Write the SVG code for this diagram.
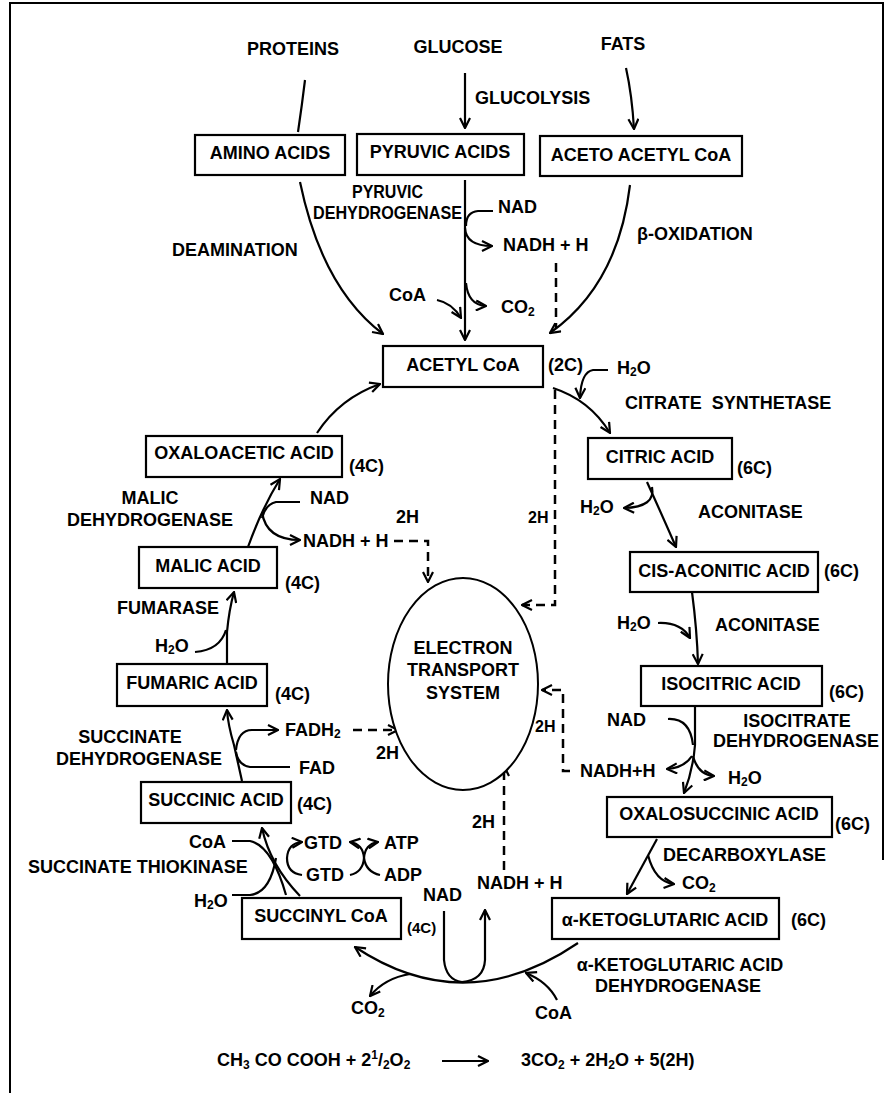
<svg xmlns="http://www.w3.org/2000/svg" width="893" height="1093" viewBox="0 0 893 1093">
<style>
  text { font-family: "Liberation Sans", Arial, sans-serif; font-weight: bold; font-size: 18px; fill: #000; }
  .m { text-anchor: middle; }
  .s16 { font-size: 16px; }
  .s15 { font-size: 15px; }
  .sub { font-size: 12px; }
  .box { fill: #fff; stroke: #000; stroke-width: 2.2; }
  .ln { fill: none; stroke: #000; stroke-width: 2.2; }
  .ar { fill: none; stroke: #000; stroke-width: 2.2; marker-end: url(#ah); }
  .da { fill: none; stroke: #000; stroke-width: 2.5; stroke-dasharray: 9 6; }
  .dar { fill: none; stroke: #000; stroke-width: 2.5; stroke-dasharray: 9 6; marker-end: url(#ah); }
  .ets { fill: #fff; stroke: #000; stroke-width: 2; }
</style>
<defs>
  <marker id="ah" viewBox="0 0 12 12" refX="11" refY="6" markerWidth="12" markerHeight="12" markerUnits="userSpaceOnUse" orient="auto">
    <path d="M1,1 L11,6 L1,11" fill="none" stroke="#000" stroke-width="2.2"/>
  </marker>
</defs>
<rect width="893" height="1093" fill="#fff"/>

<!-- frame -->
<path d="M10 1093 L10 3 L883 3 L883 860" fill="none" stroke="#000" stroke-width="2"/>

<!-- connectors -->
<g id="connectors">
  <!-- sources -->
  <path class="ln" d="M305 80 Q302 105 298 132"/>
  <path class="ar" d="M465 73 L465 128"/>
  <path class="ar" d="M626 68 Q632 95 634 129"/>
  <!-- into acetyl CoA -->
  <path class="ar" d="M300 182 Q322 288 383 334"/>
  <path class="ar" d="M465 180 L465 340"/>
  <path class="ln" d="M493 211 L478 211 Q466 212 466 226"/>
  <path class="ar" d="M465 228 Q466 246 492 246"/>
  <path class="ar" d="M437 300 Q452 303 461 318"/>
  <path class="ar" d="M466 283 Q468 305 486 306"/>
  <path class="da" d="M556 263 L556 328"/>
  <path class="ar" d="M630 185 Q618 285 550 333"/>
  <!-- acetyl CoA to citric acid -->
  <path class="ar" d="M553 388 Q590 400 610 433"/>
  <path class="ar" d="M608 370 L593 370 Q581 372 580 398"/>
  <path class="dar" d="M555 390 L555 605 L522 605"/>
  <!-- citric acid cycle, right side -->
  <path class="ar" d="M647 482 Q662 515 676 547"/>
  <path class="ar" d="M652 487 Q656 507 624 508"/>
  <path class="ar" d="M692 592 Q697 630 698 664"/>
  <path class="ar" d="M658 623 Q681 622 690 638"/>
  <path class="ar" d="M695 706 L695 745 Q693 770 684 793"/>
  <path class="ln" d="M668 719 Q690 718 693 745"/>
  <path class="ar" d="M692 756 Q684 768 667 769"/>
  <path class="ar" d="M693 756 Q698 775 714 776"/>
  <path class="dar" d="M570 771 L563 771 L563 690 L542 690"/>
  <path class="ar" d="M657 839 Q640 870 627 894"/>
  <path class="ar" d="M648 855 Q655 882 674 884"/>
  <!-- alpha-ketoglutarate to succinyl CoA -->
  <path class="ar" d="M578 943 Q465 1020 355 947"/>
  <path class="ar" d="M410 974 Q385 978 370 996"/>
  <path class="ar" d="M557 1000 Q548 982 526 973"/>
  <path class="ar" d="M444 911 L444 960 Q446 980 462 982 Q484 980 485 960 L485 910"/>
  <path class="dar" d="M504 870 L504 766"/>
  <!-- left side -->
  <path class="ar" d="M317 433 Q340 398 380 384"/>
  <path class="ar" d="M248 547 Q262 508 280 479"/>
  <path class="ln" d="M300 502 L276 502 Q265 505 262 518"/>
  <path class="ar" d="M262 512 Q266 540 300 540"/>
  <path class="dar" d="M394 541 L428 541 L428 582"/>
  <path class="ar" d="M227 664 L227 632 Q229 610 234 592"/>
  <path class="ln" d="M195 652 Q220 650 226 630"/>
  <path class="ar" d="M242 781 L234 745 Q228 725 227 710"/>
  <path class="ar" d="M236 750 Q238 730 252 730 L278 730"/>
  <path class="ln" d="M290 767 L250 767 Q238 765 236 752"/>
  <path class="dar" d="M353 730 L398 730"/>
  <!-- succinyl CoA to succinic acid -->
  <path class="ar" d="M300 896 Q270 865 262 828"/>
  <path class="ln" d="M232 841 L250 841 Q272 846 286 895"/>
  <path class="ln" d="M232 895 L250 895 Q270 893 276 858"/>
  <path class="ar" d="M302 875 Q287 873 287 858 Q288 843 302 842"/>
  <path class="ar" d="M350 875 Q363 872 364 858 Q365 844 378 842"/>
  <path class="ar" d="M380 875 Q366 872 364 858 Q363 844 350 842"/>
  <!-- overall equation arrow -->
  <path class="ar" d="M442 1061 L488 1061"/>
</g>

<!-- source labels -->
<g id="sources">
  <text class="m" x="293" y="55">PROTEINS</text>
  <text class="m" x="458" y="53">GLUCOSE</text>
  <text class="m" x="623" y="50">FATS</text>
  <text x="475" y="104">GLUCOLYSIS</text>
</g>

<g id="amino-acids">
  <rect class="box" x="195" y="135" width="150" height="40"/>
  <text class="m" x="270" y="159">AMINO ACIDS</text>
</g>
<g id="pyruvic-acids">
  <rect class="box" x="357" y="134" width="167" height="41"/>
  <text class="m" x="440" y="158">PYRUVIC ACIDS</text>
</g>
<g id="aceto-acetyl-coa">
  <rect class="box" x="540" y="136" width="202" height="40"/>
  <text class="m" x="641" y="161">ACETO ACETYL CoA</text>
</g>

<g id="upper-labels">
  <text x="352" y="198" textLength="71" lengthAdjust="spacingAndGlyphs">PYRUVIC</text>
  <text x="313" y="219" textLength="149" lengthAdjust="spacingAndGlyphs">DEHYDROGENASE</text>
  <text x="498" y="213">NAD</text>
  <text x="503" y="251">NADH + H</text>
  <text x="172" y="256">DEAMINATION</text>
  <text x="389" y="301">CoA</text>
  <text x="501" y="313">CO<tspan class="sub" dy="3">2</tspan></text>
  <text x="637" y="240">β-OXIDATION</text>
</g>

<g id="acetyl-coa">
  <rect class="box" x="383" y="346" width="160" height="41"/>
  <text class="m" x="463" y="371">ACETYL CoA</text>
  <text x="548" y="371">(2C)</text>
</g>
<text x="617" y="374">H<tspan class="sub" dy="2">2</tspan><tspan dy="-2">O</tspan></text>
<text x="625" y="409" xml:space="preserve">CITRATE  SYNTHETASE</text>

<g id="citric-acid">
  <rect class="box" x="588" y="438" width="144" height="41"/>
  <text class="m" x="660" y="463">CITRIC ACID</text>
  <text x="737" y="474">(6C)</text>
</g>
<text x="580" y="513">H<tspan class="sub" dy="2">2</tspan><tspan dy="-2">O</tspan></text>
<text x="698" y="518">ACONITASE</text>

<g id="cis-aconitic-acid">
  <rect class="box" x="630" y="552" width="188" height="40"/>
  <text class="m" x="724" y="577">CIS-ACONITIC ACID</text>
  <text x="824" y="577">(6C)</text>
</g>
<text x="617" y="629">H<tspan class="sub" dy="2">2</tspan><tspan dy="-2">O</tspan></text>
<text x="715" y="631">ACONITASE</text>

<g id="isocitric-acid">
  <rect class="box" x="641" y="666" width="181" height="40"/>
  <text class="m" x="731" y="690">ISOCITRIC ACID</text>
  <text x="829" y="698">(6C)</text>
</g>
<text x="607" y="726">NAD</text>
<text class="m" x="797" y="727">ISOCITRATE</text>
<text class="m" x="796" y="747">DEHYDROGENASE</text>
<text x="580" y="777">NADH+H</text>
<text x="728" y="784">H<tspan class="sub" dy="2">2</tspan><tspan dy="-2">O</tspan></text>
<text class="s16" x="535" y="732">2H</text>

<g id="oxalosuccinic-acid">
  <rect class="box" x="607" y="797" width="225" height="40"/>
  <text class="m" x="719" y="820">OXALOSUCCINIC ACID</text>
  <text x="835" y="830">(6C)</text>
</g>
<text x="663" y="861">DECARBOXYLASE</text>
<text x="682" y="889">CO<tspan class="sub" dy="3">2</tspan></text>

<g id="alpha-ketoglutaric-acid">
  <rect class="box" x="552" y="898" width="227" height="41"/>
  <text class="m" x="665" y="926">α-KETOGLUTARIC ACID</text>
  <text x="791" y="926">(6C)</text>
</g>
<text class="m" x="680" y="971">α-KETOGLUTARIC ACID</text>
<text class="m" x="678" y="992">DEHYDROGENASE</text>
<text x="535" y="1019">CoA</text>
<text x="351" y="1014">CO<tspan class="sub" dy="3">2</tspan></text>

<g id="electron-transport-system">
  <ellipse class="ets" cx="463" cy="684" rx="75" ry="106"/>
  <text class="m" x="463" y="654">ELECTRON</text>
  <text class="m" x="463" y="676">TRANSPORT</text>
  <text class="m" x="463" y="699">SYSTEM</text>
</g>
<text class="s16" x="528" y="523">2H</text>
<text x="396" y="523">2H</text>

<g id="oxaloacetic-acid">
  <rect class="box" x="146" y="436" width="196" height="41"/>
  <text class="m" x="244" y="459">OXALOACETIC ACID</text>
  <text x="349" y="472">(4C)</text>
</g>
<text class="m" x="150" y="504">MALIC</text>
<text class="m" x="150" y="526">DEHYDROGENASE</text>
<text x="310" y="504">NAD</text>
<text x="303" y="547">NADH + H</text>

<g id="malic-acid">
  <rect class="box" x="139" y="547" width="138" height="41"/>
  <text class="m" x="208" y="572">MALIC ACID</text>
  <text x="285" y="589">(4C)</text>
</g>
<text x="117" y="614">FUMARASE</text>
<text x="155" y="652">H<tspan class="sub" dy="2">2</tspan><tspan dy="-2">O</tspan></text>

<g id="fumaric-acid">
  <rect class="box" x="117" y="664" width="150" height="42"/>
  <text class="m" x="192" y="689">FUMARIC ACID</text>
  <text x="275" y="700">(4C)</text>
</g>
<text class="m" x="130" y="743">SUCCINATE</text>
<text class="m" x="139" y="765">DEHYDROGENASE</text>
<text x="285" y="736">FADH<tspan class="sub" dy="2">2</tspan></text>
<text x="376" y="759">2H</text>
<text x="299" y="774">FAD</text>

<g id="succinic-acid">
  <rect class="box" x="141" y="782" width="150" height="41"/>
  <text class="m" x="216" y="806">SUCCINIC ACID</text>
  <text x="297" y="810">(4C)</text>
</g>
<text x="189" y="848">CoA</text>
<text x="28" y="873">SUCCINATE THIOKINASE</text>
<text x="304" y="849">GTD</text>
<text x="384" y="849">ATP</text>
<text x="306" y="881">GTD</text>
<text x="384" y="881">ADP</text>
<text x="194" y="907">H<tspan class="sub" dy="2">2</tspan><tspan dy="-2">O</tspan></text>

<g id="succinyl-coa">
  <rect class="box" x="242" y="898" width="159" height="41"/>
  <text class="m" x="321" y="922">SUCCINYL CoA</text>
  <text class="s15" x="407" y="933">(4C)</text>
</g>
<text x="423" y="901">NAD</text>
<text x="477" y="889">NADH + H</text>
<text x="472" y="828">2H</text>

<!-- overall reaction -->
<g id="equation">
  <text x="217" y="1066">CH<tspan class="sub" dy="3">3</tspan><tspan dy="-3"> CO COOH + 2</tspan><tspan class="sub" dy="-7">1</tspan><tspan dy="7">/</tspan><tspan class="sub" dy="3">2</tspan><tspan dy="-3">O</tspan><tspan class="sub" dy="3">2</tspan></text>
  <text x="521" y="1066">3CO<tspan class="sub" dy="3">2</tspan><tspan dy="-3"> + 2H</tspan><tspan class="sub" dy="3">2</tspan><tspan dy="-3">O + 5(2H)</tspan></text>
</g>
</svg>
